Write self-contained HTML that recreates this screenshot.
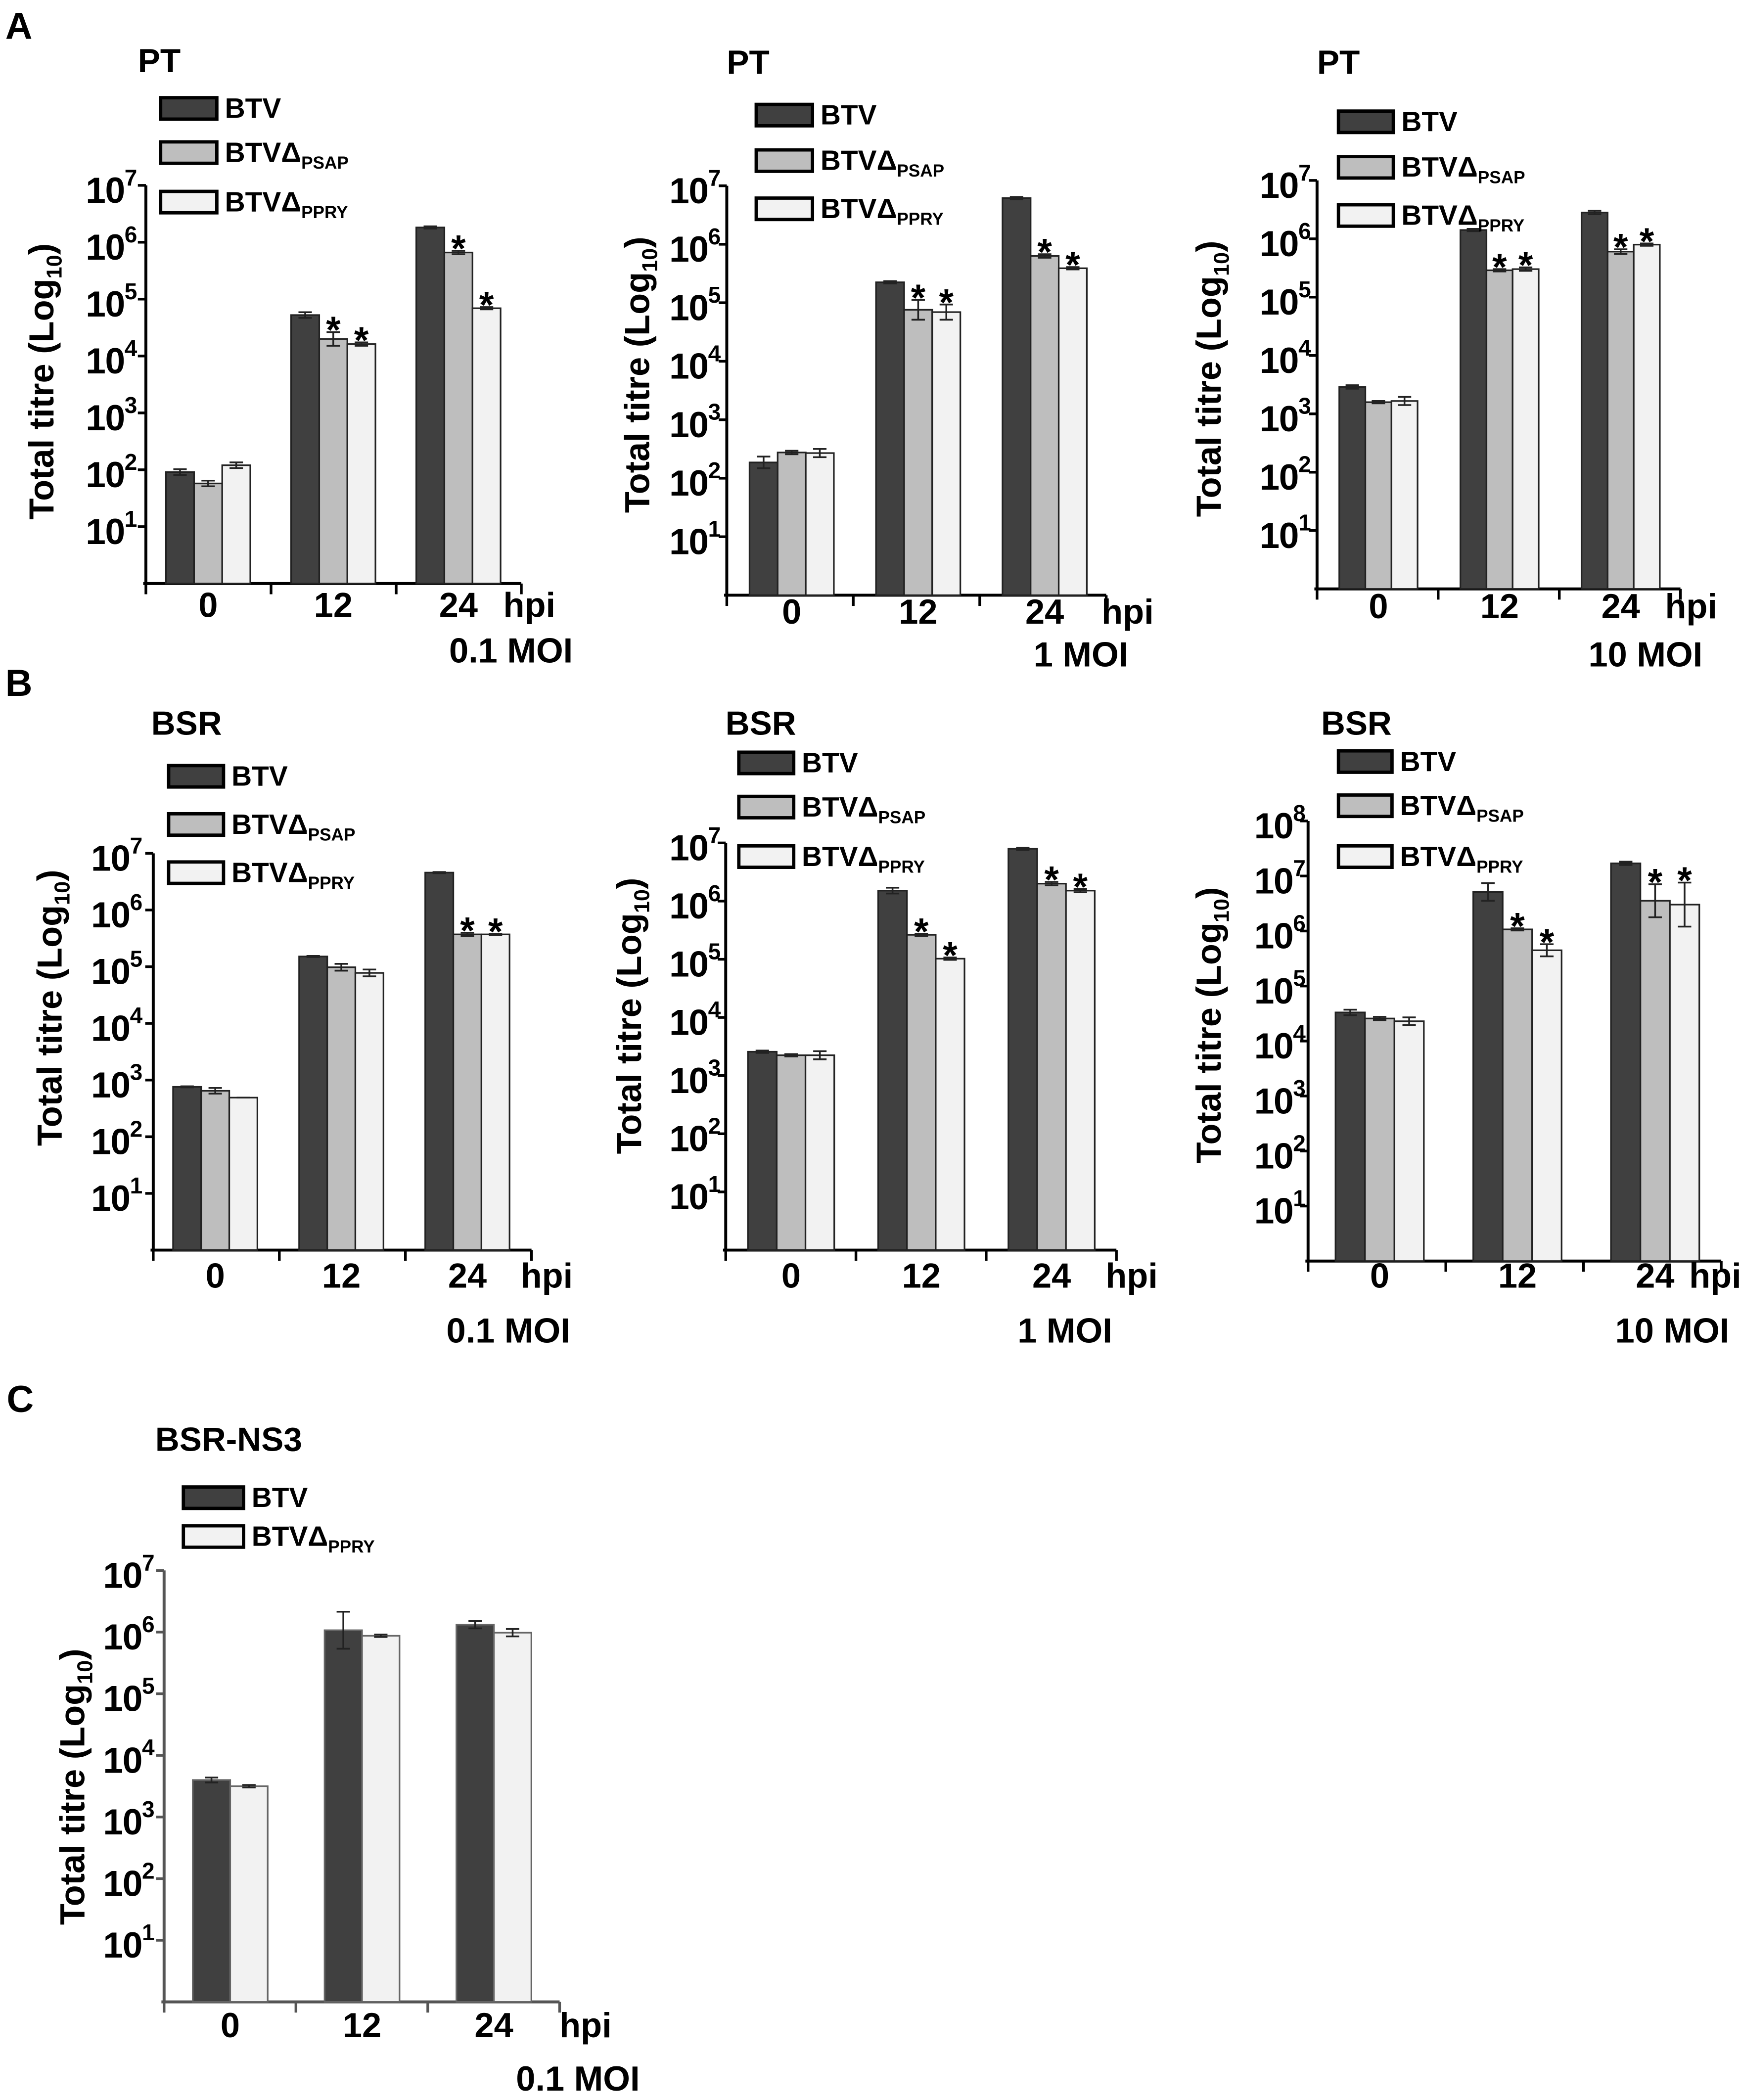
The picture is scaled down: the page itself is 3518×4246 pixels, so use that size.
<!DOCTYPE html>
<html><head><meta charset="utf-8"><title>BTV titres</title>
<style>html,body{margin:0;padding:0;background:#fff;}svg{display:block;font-family:"Liberation Sans",Arial,sans-serif;font-weight:bold;}</style>
</head><body>
<svg id="fig" xmlns="http://www.w3.org/2000/svg" width="3518" height="4246" viewBox="0 0 1300 1569" preserveAspectRatio="none">
<rect x="0" y="0" width="1300" height="1569" fill="#fff"/>
<text x="4" y="29" font-size="28">A</text>
<text x="4" y="520" font-size="28">B</text>
<text x="5" y="1055" font-size="28">C</text>
</svg>
<script>
// categories and series (log10 titre)
const categories = ["0", "12", "24"];
const seriesNames = ["BTV", "BTVΔ", "BTVΔ"];
const seriesSubs = ["", "PSAP", "PPRY"];
const a1Btv = [1.96, 4.72, 6.26], a1Psap = [1.76, 4.30, 5.82], a1Ppry = [2.08, 4.21, 4.84];
const a1BtvErr = [0.05, 0.05, 0.02], a1PsapErr = [0.05, 0.12, 0.03], a1PpryErr = [0.05, 0.03, 0.02];
const a2Btv = [2.27, 5.35, 6.79], a2Psap = [2.44, 4.88, 5.80], a2Ppry = [2.43, 4.84, 5.59];
const a2BtvErr = [0.1, 0.02, 0.02], a2PsapErr = [0.03, 0.17, 0.03], a2PpryErr = [0.07, 0.13, 0.02];
const a3Btv = [3.46, 6.15, 6.45], a3Psap = [3.20, 5.46, 5.78], a3Ppry = [3.22, 5.48, 5.90];
const a3BtvErr = [0.03, 0.02, 0.03], a3PsapErr = [0.02, 0.02, 0.04], a3PpryErr = [0.07, 0.03, 0.02];
const b1Btv = [2.88, 5.18, 6.66], b1Psap = [2.81, 4.99, 5.57], b1Ppry = [2.69, 4.89, 5.57];
const b1BtvErr = [0.01, 0.01, 0.01], b1PsapErr = [0.05, 0.06, 0.03], b1PpryErr = [0, 0.06, 0.01];
const b2Btv = [3.41, 6.18, 6.90], b2Psap = [3.35, 5.42, 6.30], b2Ppry = [3.35, 5.01, 6.18];
const b2BtvErr = [0.02, 0.05, 0.02], b2PsapErr = [0.02, 0.02, 0.03], b2PpryErr = [0.07, 0.02, 0.03];
const b3Btv = [4.52, 6.71, 7.23], b3Psap = [4.41, 6.03, 6.55], b3Ppry = [4.36, 5.65, 6.48];
const b3BtvErr = [0.05, 0.16, 0.03], b3PsapErr = [0.03, 0.02, 0.3], b3PpryErr = [0.07, 0.11, 0.4];
const cBtv = [3.60, 6.03, 6.12], cPpry = [3.50, 5.94, 5.99];
const cBtvErr = [0.04, 0.3, 0.06], cPpryErr = [0.02, 0.02, 0.06];
// significance flags per series per category
const a1Stars = [[0,0,0],[0,1,1],[0,1,1]];
const a2Stars = [[0,0,0],[0,1,1],[0,1,1]];
const a3Stars = [[0,0,0],[0,1,1],[0,1,1]];
const b1Stars = [[0,0,0],[0,0,1],[0,0,1]];
const b2Stars = [[0,0,0],[0,1,1],[0,1,1]];
const b3Stars = [[0,0,0],[0,1,1],[0,1,1]];
const cStars = [[0,0,0],[0,0,0]];

const NS = "http://www.w3.org/2000/svg";
const svg = document.getElementById("fig");
const fills = ["#404040", "#bebebe", "#f2f2f2"];
function mk(tag, attrs, parent) {
  const e = document.createElementNS(NS, tag);
  for (const k in attrs) e.setAttribute(k, attrs[k]);
  (parent || svg).appendChild(e);
  return e;
}
function chart(p) {
  const g = mk("g", {});
  
  
  const yS = v => p.base - v * p.dec;
  const top = yS(p.maxExp);
  const axCol = p.axCol || "#000";
  const xEnd = p.x0 + 3 * p.gw;
  const ya = mk("line", {x1: p.x0, y1: top, x2: p.x0, y2: p.base, stroke: axCol, "stroke-width": 2.2}, g);
  
  
  const xa = mk("line", {x1: p.x0 - 2, y1: p.base, x2: xEnd, y2: p.base, stroke: axCol, "stroke-width": 2.2}, g);
  
  
  for (let k = 0; k <= 3; k++) {
    mk("line", {x1: p.x0 + k * p.gw, y1: p.base, x2: p.x0 + k * p.gw, y2: p.base + 8, stroke: axCol, "stroke-width": 2}, g);
  }
  for (let e = 1; e <= p.maxExp; e++) {
    const y = yS(e);
    mk("line", {x1: p.x0 - 6, y1: y, x2: p.x0, y2: y, stroke: axCol, "stroke-width": 2}, g);
    const t = mk("text", {x: p.tickR, y: y + 13, "font-size": 27, "text-anchor": "end", "letter-spacing": -0.5}, g);
    
    
    t.appendChild(document.createTextNode("10"));
    const s = mk("tspan", {dy: -13, "font-size": 17}, t);
    s.textContent = String(e);
  }
  const yl = mk("text", {x: 0, y: 0, "font-size": 26, "text-anchor": "middle", transform: `translate(${p.ylx},${p.yly}) rotate(-90)`}, g);
  
  
  yl.appendChild(document.createTextNode("Total titre (Log"));
  const sub = mk("tspan", {dy: 6, "font-size": 16}, yl); sub.textContent = "10";
  const cl = mk("tspan", {dy: -6}, yl); cl.textContent = ")";
  const ns = p.series.length;
  for (let c = 0; c < 3; c++) {
    const gx = p.x0 + c * p.gw + p.off;
    for (let s = 0; s < ns; s++) {
      const v = p.series[s][c], err = p.errs[s][c];
      const x = gx + s * p.w, y = yS(v);
      const r = mk("rect", {x: x, y: y, width: p.w, height: p.base - y, fill: fills[p.fillIdx[s]], stroke: p.barStroke || "#222", "stroke-width": 1.2}, g);
      
      
      const cx = x + p.w / 2, y1 = yS(v + err), y2 = yS(v - err);
      mk("path", {d: `M${cx},${y1}V${y2}M${cx - 5},${y1}H${cx + 5}M${cx - 5},${y2}H${cx + 5}`, stroke: "#222", "stroke-width": 1.3, fill: "none"}, g);
      if (p.stars[s][c]) {
        const st = mk("text", {x: cx, y: y1 + 8, "font-size": 28, "text-anchor": "middle"}, g);
        
        
        st.textContent = "*";
      }
    }
    const lab = mk("text", {x: gx + ns * p.w / 2, y: p.catY, "font-size": 26, "text-anchor": "middle"}, g);
    
    
    lab.textContent = categories[c];
  }
  const h = mk("text", {x: p.hpiX, y: p.catY, "font-size": 26}, g);
  
  
  h.textContent = "hpi";
  const m = mk("text", {x: p.moiR, y: p.moiY, "font-size": 26, "text-anchor": "end"}, g);
  
  
  m.textContent = p.moi;
  const tt = mk("text", {x: p.titleX, y: p.titleY, "font-size": 25}, g);
  
  
  tt.textContent = p.title;
  for (let s = 0; s < ns; s++) {
    const cy = p.legRows[s];
    const lr = mk("rect", {x: p.legX, y: cy - 8, width: p.legW, height: 16, fill: fills[p.fillIdx[s]], stroke: "#000", "stroke-width": 2.5}, g);
    
    
    const lt = mk("text", {x: p.legX + p.legW + 6, y: cy + 7, "font-size": 21}, g);
    
    
    lt.appendChild(document.createTextNode(seriesNames[p.fillIdx[s]]));
    if (seriesSubs[p.fillIdx[s]]) {
      const ss = mk("tspan", {dy: 5, "font-size": 13}, lt);
      ss.textContent = seriesSubs[p.fillIdx[s]];
    }
  }
}
const K3 = ["btv", "psap", "ppry"];
chart({name: "chart-pt-0-1-moi", series: [a1Btv, a1Psap, a1Ppry], errs: [a1BtvErr, a1PsapErr, a1PpryErr], stars: a1Stars, keys: K3, fillIdx: [0,1,2],
  x0: 109, base: 436, dec: 42.5, maxExp: 7, w: 21, off: 15, gw: 93.5, tickR: 102, ylx: 40, yly: 285,
  catY: 461, hpiX: 376, moiR: 428, moiY: 495, moi: "0.1 MOI", title: "PT", titleX: 103, titleY: 54,
  legX: 120, legW: 42, legRows: [81, 114, 151]});
chart({name: "chart-pt-1-moi", series: [a2Btv, a2Psap, a2Ppry], errs: [a2BtvErr, a2PsapErr, a2PpryErr], stars: a2Stars, keys: K3, fillIdx: [0,1,2],
  x0: 543, base: 444.7, dec: 43.7, maxExp: 7, w: 21, off: 17, gw: 94.5, tickR: 538, ylx: 485, yly: 280,
  catY: 466, hpiX: 823, moiR: 843, moiY: 498, moi: "1 MOI", title: "PT", titleX: 543, titleY: 55,
  legX: 565, legW: 42, legRows: [86, 120, 156]});
chart({name: "chart-pt-10-moi", series: [a3Btv, a3Psap, a3Ppry], errs: [a3BtvErr, a3PsapErr, a3PpryErr], stars: a3Stars, keys: K3, fillIdx: [0,1,2],
  x0: 984, base: 440, dec: 43.6, maxExp: 7, w: 19.5, off: 16.6, gw: 90.5, tickR: 979, ylx: 912, yly: 283,
  catY: 462, hpiX: 1244, moiR: 1272, moiY: 498, moi: "10 MOI", title: "PT", titleX: 984, titleY: 55,
  legX: 1000, legW: 41, legRows: [91, 125, 161]});
chart({name: "chart-bsr-0-1-moi", series: [b1Btv, b1Psap, b1Ppry], errs: [b1BtvErr, b1PsapErr, b1PpryErr], stars: b1Stars, keys: K3, fillIdx: [0,1,2],
  x0: 114.5, base: 934, dec: 42.35, maxExp: 7, w: 21, off: 14.8, gw: 94.2, tickR: 106, ylx: 46, yly: 753,
  catY: 962, hpiX: 389, moiR: 426, moiY: 1003, moi: "0.1 MOI", title: "BSR", titleX: 113, titleY: 549,
  legX: 126, legW: 41, legRows: [580, 616, 652]});
chart({name: "chart-bsr-1-moi", series: [b2Btv, b2Psap, b2Ppry], errs: [b2BtvErr, b2PsapErr, b2PpryErr], stars: b2Stars, keys: K3, fillIdx: [0,1,2],
  x0: 542.2, base: 934, dec: 43.46, maxExp: 7, w: 21.5, off: 16.6, gw: 97.3, tickR: 538, ylx: 479, yly: 759,
  catY: 962, hpiX: 826, moiR: 831, moiY: 1003, moi: "1 MOI", title: "BSR", titleX: 542, titleY: 549,
  legX: 552, legW: 41, legRows: [570, 603, 640]});
chart({name: "chart-bsr-10-moi", series: [b3Btv, b3Psap, b3Ppry], errs: [b3BtvErr, b3PsapErr, b3PpryErr], stars: b3Stars, keys: K3, fillIdx: [0,1,2],
  x0: 977.3, base: 942.2, dec: 41.1, maxExp: 8, w: 22, off: 20.5, gw: 102.9, tickR: 975, ylx: 912, yly: 766,
  catY: 962, hpiX: 1262, moiR: 1292, moiY: 1003, moi: "10 MOI", title: "BSR", titleX: 987, titleY: 549,
  legX: 1000, legW: 40, legRows: [569, 602, 640]});
chart({name: "chart-bsr-ns3", series: [cBtv, cPpry], errs: [cBtvErr, cPpryErr], stars: cStars, keys: ["btv", "ppry"], fillIdx: [0,2],
  x0: 122.6, base: 1495.7, dec: 46.05, maxExp: 7, w: 28, off: 21.4, gw: 98.5, tickR: 115, ylx: 63, yly: 1335,
  catY: 1522, hpiX: 418, moiR: 478, moiY: 1562, moi: "0.1 MOI", title: "BSR-NS3", titleX: 116, titleY: 1084,
  legX: 137, legW: 45, legRows: [1119, 1148], axCol: "#555", barStroke: "#666"});
</script>
</body></html>
